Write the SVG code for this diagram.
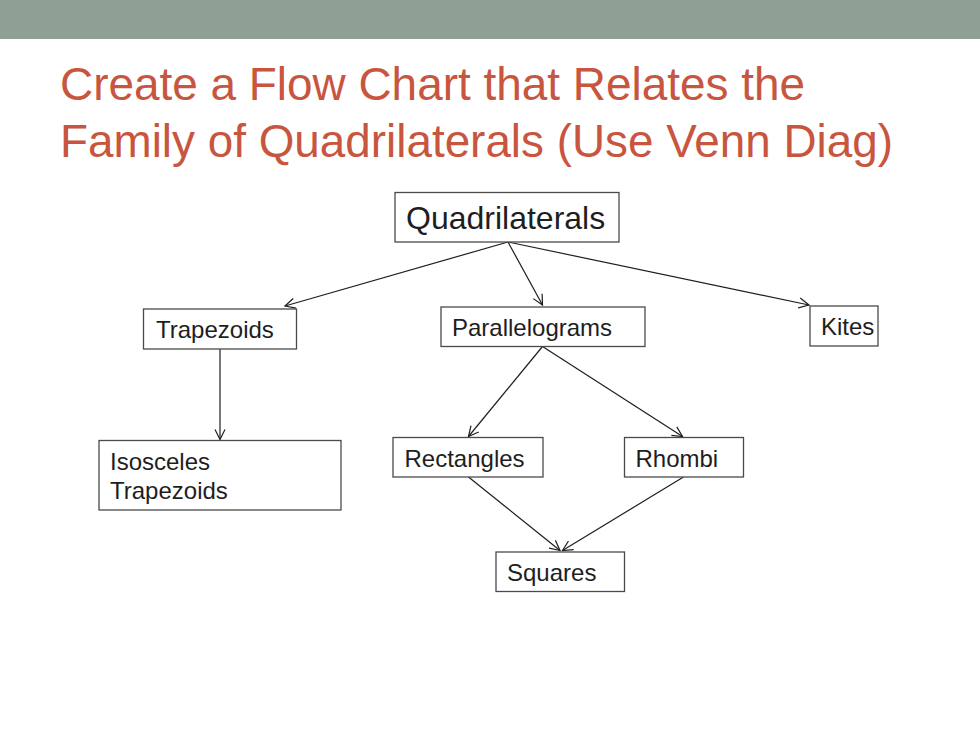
<svg xmlns="http://www.w3.org/2000/svg" width="980" height="735" viewBox="0 0 980 735">
<defs>
<style>
.box{fill:#fff;stroke:#4a4a4a;stroke-width:1.3}
.lbl{font-family:"Liberation Sans",Arial,sans-serif;font-size:24px;fill:#1e1e1e}
.title{font-family:"Liberation Sans",Arial,sans-serif;font-size:46px;fill:#c8553e}
.conn{stroke:#1e1e1e;stroke-width:1.2;fill:none;marker-end:url(#arr)}
</style>
<marker id="arr" markerUnits="userSpaceOnUse" markerWidth="14" markerHeight="14" refX="11" refY="6" orient="auto">
<path d="M1,1 L11,6 L1,11" fill="none" stroke="#1e1e1e" stroke-width="1.2"/>
</marker>
</defs>
<rect width="980" height="735" fill="#fff"/>
<rect x="0" y="0" width="980" height="39" fill="#909f96"/>
<text class="title" x="60" y="100" textLength="745" lengthAdjust="spacingAndGlyphs">Create a Flow Chart that Relates the</text>
<text class="title" x="60" y="157" textLength="833" lengthAdjust="spacingAndGlyphs">Family of Quadrilaterals (Use Venn Diag)</text>
<g id="connectors">
<line class="conn" x1="508" y1="242" x2="285" y2="306"/>
<line class="conn" x1="508" y1="242" x2="542.5" y2="305"/>
<line class="conn" x1="508" y1="242" x2="809" y2="305"/>
<line class="conn" x1="220" y1="349" x2="220" y2="439.5"/>
<line class="conn" x1="542.5" y1="346.5" x2="468.5" y2="436.5"/>
<line class="conn" x1="542.5" y1="346.5" x2="682.5" y2="436.5"/>
<line class="conn" x1="468.5" y1="477" x2="560" y2="550.5"/>
<line class="conn" x1="683.5" y1="477" x2="562.5" y2="550.5"/>
</g>
<g id="quadrilaterals"><rect class="box" x="395" y="192.5" width="224" height="49.5"/><text class="lbl" x="406" y="228.5" style="font-size:32px">Quadrilaterals</text></g>
<g id="trapezoids"><rect class="box" x="143.5" y="309" width="153" height="40"/><text class="lbl" x="156" y="337.5">Trapezoids</text></g>
<g id="parallelograms"><rect class="box" x="441" y="307" width="204" height="39.5"/><text class="lbl" x="452" y="335.5">Parallelograms</text></g>
<g id="kites"><rect class="box" x="810" y="306" width="68" height="40"/><text class="lbl" x="821" y="335">Kites</text></g>
<g id="isosceles"><rect class="box" x="99" y="440.5" width="242" height="69.5"/><text class="lbl" x="110" y="470">Isosceles</text><text class="lbl" x="110" y="498.5">Trapezoids</text></g>
<g id="rectangles"><rect class="box" x="393" y="437.5" width="150" height="39.5"/><text class="lbl" x="404.5" y="466.5">Rectangles</text></g>
<g id="rhombi"><rect class="box" x="624.5" y="437.5" width="119" height="39.5"/><text class="lbl" x="635.5" y="466.5">Rhombi</text></g>
<g id="squares"><rect class="box" x="496" y="552" width="128.5" height="39.5"/><text class="lbl" x="507" y="580.5">Squares</text></g>
</svg>
